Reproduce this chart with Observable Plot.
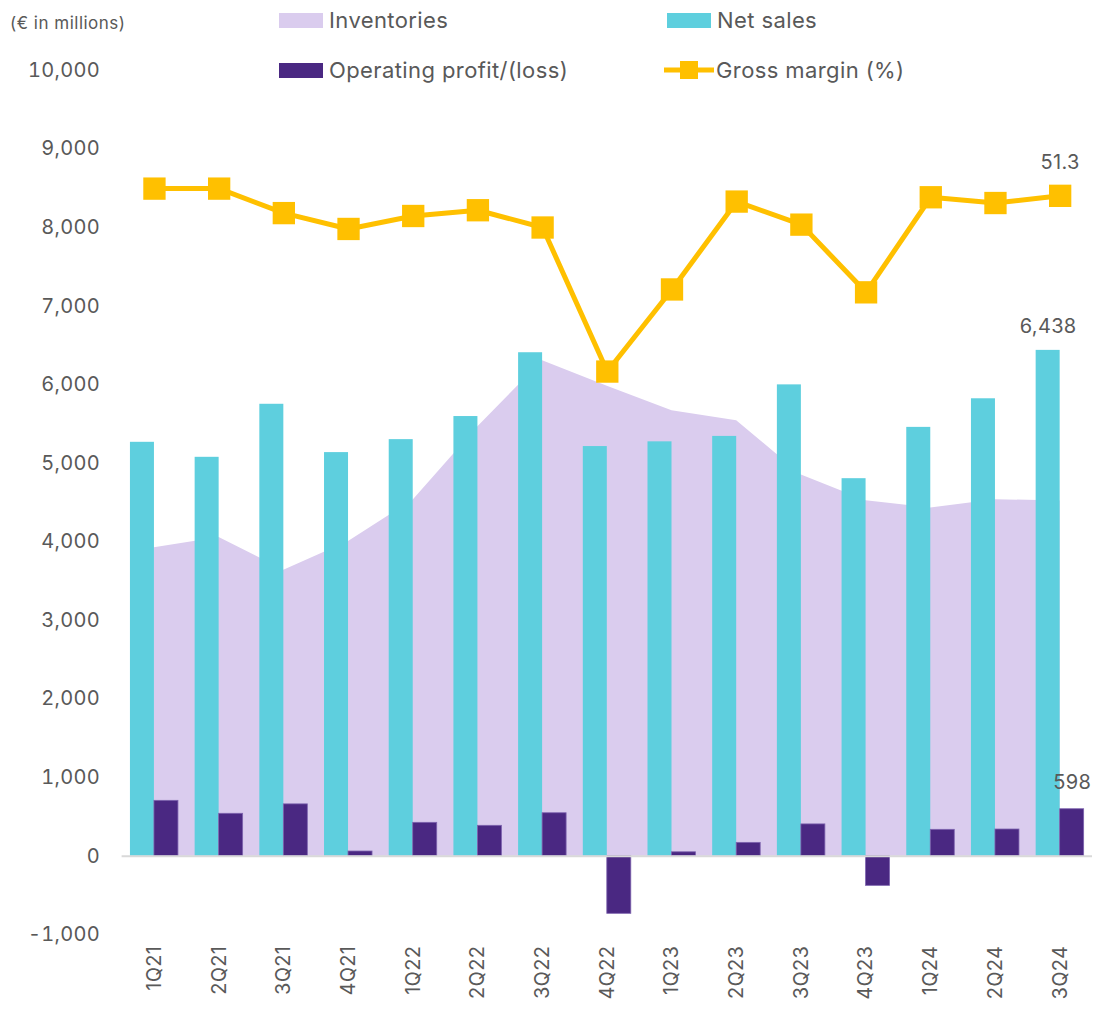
<!DOCTYPE html>
<html>
<head>
<meta charset="utf-8">
<script src="https://cdn.jsdelivr.net/npm/d3@7"></script>
<script src="https://cdn.jsdelivr.net/npm/@observablehq/plot@0.6"></script>
<style>
  body { margin: 0; background: #fff; font-family: Inter, "Open Sans", sans-serif; color: #595959; }
  #wrap { position: relative; width: 1094px; height: 1009px; overflow: hidden; }
  #chart { position: absolute; left: 0; top: 0; }
  #unit { position: absolute; left: 10px; top: 13px; font-size: 17px; letter-spacing: 0.5px; color: #595959; white-space: nowrap; }
  .leg { position: absolute; display: flex; align-items: center; font-size: 22px; letter-spacing: 0.4px; color: #595959; white-space: nowrap; }
  .sw { width: 44px; height: 15px; margin-right: 6px; }
  #chart svg text { letter-spacing: 0.3px; }
</style>
</head>
<body>
<div id="wrap">
  <div id="chart"></div>
  <div id="unit">(€ in millions)</div>
  <div id="legend"></div>
</div>
<script>
// ---- data ----
const quarters = ["1Q21","2Q21","3Q21","4Q21","1Q22","2Q22","3Q22","4Q22","1Q23","2Q23","3Q23","4Q23","1Q24","2Q24","3Q24"];
const netSales = [5268, 5077, 5752, 5137, 5302, 5596, 6408, 5214, 5274, 5343, 5999, 4805, 5458, 5822, 6438];
const operatingProfit = [705, 540, 660, 60, 425, 387, 547, -733, 50, 170, 405, -377, 336, 340, 598];
const inventories = [3927, 4058, 3641, 4004, 4534, 5467, 6307, 5980, 5671, 5543, 4852, 4525, 4432, 4538, 4520];
const grossMargin = [51.8, 51.8, 50.1, 49.0, 49.9, 50.3, 49.1, 39.1, 44.8, 50.9, 49.3, 44.6, 51.2, 50.8, 51.3];
const yTicks = [-1000, 0, 1000, 2000, 3000, 4000, 5000, 6000, 7000, 8000, 9000, 10000];
const legendItems = ["Inventories", "Net sales", "Operating profit/(loss)", "Gross margin (%)"];

// colours
const C_INV = "#DACCEE", C_SALES = "#5ECFDE", C_OP = "#4A2882", C_GM = "#FFC000";

// gross margin sits on a hidden secondary axis 0–60 % spanning the primary -1,000–10,000
const gmToPrimary = p => -1000 + p / 60 * 11000;

const data = quarters.map((q, i) => ({
  q, sales: netSales[i], op: operatingProfit[i], inv: inventories[i], gm: grossMargin[i]
}));
const last = data.filter(d => d.q === quarters[quarters.length - 1]);

const fmt = d => (d < 0 ? "-" : "") + d3.format(",")(Math.abs(d));

const half = (1094 - 121.6 - 2) / quarters.length / 2;
const barW = 24;

const chart = Plot.plot({
  width: 1094,
  height: 1009,
  marginTop: 70,
  marginBottom: 74.7,
  marginLeft: 121.6,
  marginRight: 2,
  style: { fontFamily: "Inter, 'Open Sans', sans-serif", fontSize: "20px", color: "#595959", background: "transparent" },
  x: { domain: quarters, padding: 0, round: false, label: null, tickSize: 0, tickRotate: -90, tickPadding: 11 },
  y: { domain: [-1000, 10000], ticks: yTicks, tickFormat: fmt, tickSize: 0, tickPadding: 22, label: null },
  marks: [
    Plot.areaY(data, { x: "q", y: "inv", fill: C_INV }),
    Plot.barY(data, { x: "q", y: "sales", fill: C_SALES, insetLeft: half - barW, insetRight: half }),
    Plot.barY(data, { x: "q", y: "op", fill: C_OP, stroke: "#7d63ae", strokeWidth: 0.8, insetLeft: half, insetRight: half - barW }),
    Plot.ruleY([0], { stroke: "#d9d9d9", strokeWidth: 2 }),
    Plot.lineY(data, { x: "q", y: d => gmToPrimary(d.gm), stroke: C_GM, strokeWidth: 5 }),
    Plot.dot(data, { x: "q", y: d => gmToPrimary(d.gm), symbol: "square", r: 12.6, fill: C_GM }),
    Plot.text(last, { x: "q", y: d => gmToPrimary(d.gm), text: d => d.gm.toFixed(1), dy: -33, fill: "#595959", fontSize: 20 }),
    Plot.text(last, { x: "q", y: "sales", text: d => fmt(d.sales), dx: -barW / 2, dy: -24, fill: "#595959", fontSize: 20 }),
    Plot.text(last, { x: "q", y: "op", text: d => fmt(d.op), dx: barW / 2, dy: -27, fill: "#595959", fontSize: 20 })
  ]
});
document.getElementById("chart").appendChild(chart);

// ---- legend (HTML, above the plot area) ----
const legend = document.getElementById("legend");
const legPos = [
  { left: 279, top: 20 }, { left: 667, top: 20 },
  { left: 279, top: 70 }, { left: 664, top: 70 }
];
const legFill = [C_INV, C_SALES, C_OP, C_GM];
legendItems.forEach((name, i) => {
  const el = document.createElement("div");
  el.className = "leg";
  el.style.left = legPos[i].left + "px";
  el.style.top = (legPos[i].top - 14) + "px";
  el.style.height = "28px";
  if (i < 3) {
    const sw = document.createElement("div");
    sw.className = "sw";
    sw.style.background = legFill[i];
    el.appendChild(sw);
  } else {
    const ns = "http://www.w3.org/2000/svg";
    const svg = document.createElementNS(ns, "svg");
    svg.setAttribute("width", 50); svg.setAttribute("height", 20);
    svg.style.marginRight = "2px";
    const ln = document.createElementNS(ns, "line");
    ln.setAttribute("x1", 0); ln.setAttribute("x2", 50); ln.setAttribute("y1", 10); ln.setAttribute("y2", 10);
    ln.setAttribute("stroke", C_GM); ln.setAttribute("stroke-width", 5);
    const sq = document.createElementNS(ns, "rect");
    sq.setAttribute("x", 16); sq.setAttribute("y", 1); sq.setAttribute("width", 18); sq.setAttribute("height", 18);
    sq.setAttribute("fill", C_GM);
    svg.appendChild(ln); svg.appendChild(sq);
    el.appendChild(svg);
  }
  const t = document.createElement("span");
  t.textContent = name;
  el.appendChild(t);
  legend.appendChild(el);
});
</script>
</body>
</html>
